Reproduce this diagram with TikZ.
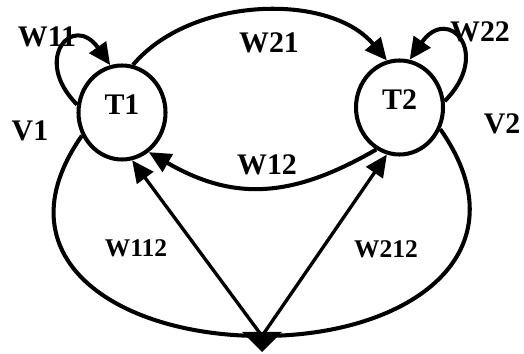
\documentclass[tikz,border=0pt]{standalone}
\usepackage{fontspec}
\setmainfont{Liberation Serif}
\usetikzlibrary{shapes,arrows,arrows.meta,positioning,calc}

\begin{document}
\begin{tikzpicture}[
    state/.style={draw, ellipse, line width=2.3pt, minimum width=1.74cm, minimum height=1.88cm,
      inner sep=0pt, text depth=0.3cm, font=\bfseries\fontsize{17}{20}\selectfont},
    wire/.style={line width=2.3pt},
    arr/.style={wire, -{Triangle[length=0.44cm, width=0.4cm]}},
    lbl/.style={font=\bfseries\fontsize{17}{20}\selectfont},
    slbl/.style={font=\bfseries\fontsize{14.5}{17}\selectfont}]
  \useasboundingbox (0,0) rectangle (10.48,7.08);

  \node[state] (T1) at (2.44,4.83) {T1};
  \node[state] (T2) at (7.99,4.93) {T2};
  \coordinate (src) at (5.24,0.36);
  \fill (src) +(-0.4,0.08) -- +(0.4,0.08) -- +(0,-0.32) -- cycle;

  % self loops
  \draw[arr] (T1.170) to[out=135, in=125, looseness=3.2] (T1.104);
  \draw[arr] (T2.8) to[out=45, in=55, looseness=3.2] (T2.78);

  % between T1 and T2
  \draw[arr] (T1.77) to[out=50, in=130, looseness=0.9] (T2.105);
  \draw[arr] (T2.241) to[out=210, in=330, looseness=1.1] (T1.304);

  % outer loop through the bottom
  \draw[wire] (T1.210) to[out=235, in=180, looseness=1.4] (src);
  \draw[wire] (T2.332) to[out=305, in=0, looseness=1.4] (src);
  \draw[arr, line width=1.9pt] (src) -- (T1.282);
  \draw[arr, line width=1.9pt] (src) -- (T2.255);

  \node[lbl] (w11) at (0.94,6.34) {W11};
  \node[lbl] (w21) at (5.38,6.22) {W21};
  \node[lbl] (w22) at (9.60,6.44) {W22};
  \node[lbl] (v1) at (0.60,4.46) {V1};
  \node[lbl] (v2) at (10.04,4.60) {V2};
  \node[lbl] (w12) at (5.34,3.78) {W12};
  \node[slbl] (w112) at (2.72,2.12) {W112};
  \node[slbl] (w212) at (7.72,2.10) {W212};
\end{tikzpicture}
\end{document}
